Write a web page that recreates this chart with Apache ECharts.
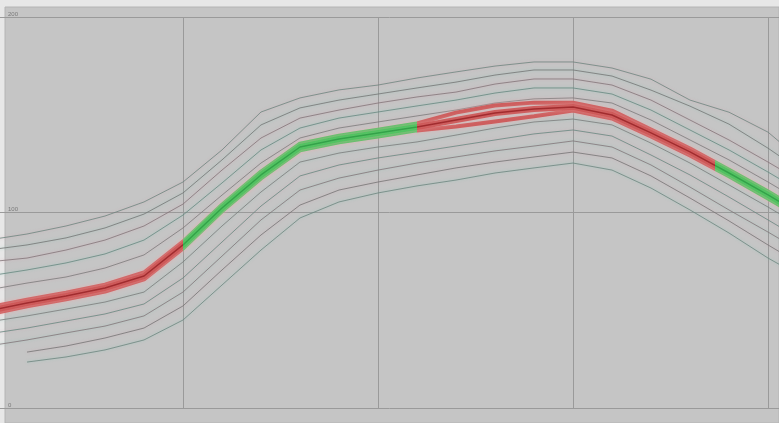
<!DOCTYPE html>
<html><head><meta charset="utf-8">
<script src="https://cdn.jsdelivr.net/npm/echarts@6/dist/echarts.min.js"></script>
<style>html,body{margin:0;padding:0;background:#e7e7e7;}#c{width:779px;height:423px;}</style>
</head><body><div id="c"></div>
<script>
var xs = [0,2,4,6,8,10,12,14,16,18,20,22,24,26,28,30,32,34,36,38,40,42];
var yTicks = ['0','100','200'];
var mainMid = [49.6,53.7,57.3,61.4,67.5,83.4,102.3,119.2,133.5,137.6,140.7,143.7,147.3,150.9,152.9,154.0,149.9,140.7,131.0,120.2,109.0,97.2];
var mainTop = [51.4,55.4,59.0,63.1,69.3,85.1,104.0,120.9,135.2,139.3,142.4,145.5,151.1,154.7,156.2,156.2,152.1,142.4,132.7,121.9,110.7,98.9];
var mainBot = [47.9,52.0,55.6,59.6,65.8,81.6,100.6,117.4,131.8,135.9,138.9,142.0,144.0,146.6,149.2,152.2,148.1,138.9,129.2,118.5,107.2,95.5];
var up1 = [60.4,63.9,67.0,71.6,78.3,92.1,108.9,125.3,138.1,143.2,146.3,149.4,152.4,156.0,158.1,158.6,156.0,147.3,137.1,126.9,115.6,103.8];
var up2 = [67.5,70.6,74.2,78.8,85.9,98.7,115.1,132.0,143.2,148.3,151.4,154.5,157.5,161.1,163.7,163.7,160.6,152.4,142.2,132.0,120.7,108.9];
var up3 = [74.7,76.7,80.8,85.9,93.1,104.3,121.7,138.1,148.3,152.4,156.0,159.1,161.6,165.7,168.3,168.3,165.2,157.5,147.3,137.1,125.8,114.1];
var up4 = [80.8,83.4,87.0,92.1,99.2,110.0,126.9,144.8,153.5,157.5,160.6,163.7,166.7,170.3,172.9,172.9,169.8,162.6,154.4,145.2,132.9,119.2];
var up5 = [85.9,89.0,93.1,98.2,105.4,115.6,132.0,151.4,158.6,162.7,165.2,168.8,171.9,174.9,177.0,177.0,173.9,168.2,157.5,151.3,141.1,124.3];
var lo1 = [44.0,47.1,50.6,54.2,59.3,74.7,93.1,110.5,125.8,130.4,133.5,136.1,139.6,143.2,146.3,147.8,144.8,135.5,125.3,114.1,102.8,91.0];
var lo2 = [37.9,40.9,44.5,48.1,53.2,66.5,84.9,103.3,118.7,124.3,127.9,130.9,134.0,137.1,140.2,142.2,139.1,129.4,119.2,107.9,96.2,84.4];
var lo3 = [31.7,34.8,38.4,41.9,47.1,59.3,77.7,96.2,111.5,117.6,121.7,125.3,128.4,131.5,134.0,136.6,133.5,124.3,113.0,101.3,90.0,78.3];
var lo4 = [null,28.6,31.7,35.8,40.9,52.2,70.6,88.5,103.8,111.5,115.6,119.2,122.8,125.8,128.4,130.9,127.9,118.7,107.4,95.7,83.4,71.6];
var lo5 = [null,23.5,26.1,29.7,34.8,45.0,62.9,80.8,97.2,105.4,110.0,113.6,116.6,120.2,122.8,125.3,121.7,112.5,101.3,89.5,76.7,65.5];

function pairs(arr){ return xs.map(function(x,i){ return [x, arr[i]]; }); }
var grayColors = ['#7a7a7a','#678780','#827478','#747474','#6d847e'];
var grays = [up1,up2,up3,up4,up5,lo1,lo2,lo3,lo4,lo5];
var series = [];
grays.forEach(function(g,i){
  series.push({type:'line', data:pairs(g), symbol:'none', silent:true,
    lineStyle:{width:1, color:grayColors[i%5], opacity:0.8,
      shadowColor: i%2 ? 'rgba(120,200,180,0.5)' : 'rgba(220,150,170,0.45)', shadowBlur:3}, z:2});
});
var lightStart = series.length;
[mainTop, mainBot, mainMid].forEach(function(m,i){
  series.push({type:'line', data:pairs(m), symbol:'none', silent:true,
    lineStyle:{width: i===2?6:4, opacity:0.92, shadowBlur:4, shadowColor:'rgba(235,170,170,0.6)'}, z:5});
});
var midIdx = series.length;
series.push({type:'line', data:pairs(mainMid), symbol:'none', silent:true,
  lineStyle:{width:1.5, opacity:0.9}, z:6});

var redL = '#cd5656', greenL = '#4dc35f', redD = '#9c2629', greenD = '#2f9f45';
var chart = echarts.init(document.getElementById('c'), null, {renderer:'canvas'});
chart.setOption({
  animation:false,
  backgroundColor:'#e7e7e7',
  graphic:[{type:'rect', shape:{x:5,y:7,width:774,height:416}, style:{fill:'#c5c5c5', stroke:'#b4b4b4', lineWidth:1}, z:-10}],
  grid:{left:-12, top:17, width:975, height:391, show:false, outerBoundsMode:'none', containLabel:false},
  xAxis:{type:'value', min:0, max:50, interval:10,
    axisLine:{show:false}, axisTick:{show:false}, axisLabel:{show:false},
    splitLine:{show:true, lineStyle:{color:'#9a9a9a', width:1}}},
  yAxis:{type:'value', min:0, max:200, interval:100,
    axisLine:{show:false}, axisTick:{show:false},
    axisLabel:{inside:true, margin:20, fontSize:6, color:'#7a7a7a', verticalAlign:'bottom',
      formatter:function(v,i){ return yTicks[i]; }},
    splitLine:{show:true, lineStyle:{color:'#9a9a9a', width:1}}},
  visualMap:[
    {type:'piecewise', show:false, dimension:0, seriesIndex:[lightStart, lightStart+1, lightStart+2],
     pieces:[{lt:10,color:redL},{gte:10,lt:22,color:greenL},{gte:22,lt:37.3,color:redL},{gte:37.3,color:greenL}]},
    {type:'piecewise', show:false, dimension:0, seriesIndex:[midIdx],
     pieces:[{lt:10,color:redD},{gte:10,lt:22,color:greenD},{gte:22,lt:37.3,color:redD},{gte:37.3,color:greenD}]}
  ],
  series:series
});
</script></body></html>
